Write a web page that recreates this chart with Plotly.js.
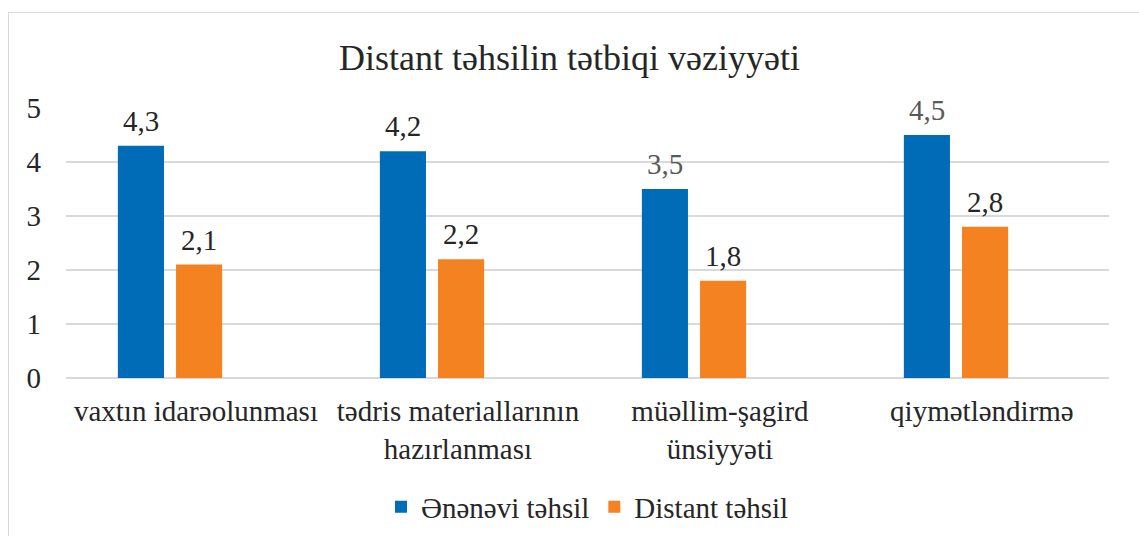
<!DOCTYPE html>
<html>
<head>
<meta charset="utf-8">
<script src="https://cdn.plot.ly/plotly-3.0.1.min.js"></script>
<style>
  html, body { margin: 0; padding: 0; background: #ffffff; }
  #wrap { position: relative; width: 1139px; height: 536px; overflow: hidden; }
  #chart { width: 1139px; height: 536px; }
  #frame { position: absolute; left: 8px; top: 12px; width: 1140px; height: 540px;
           border: 1.5px solid #d9d9d9; box-sizing: border-box; pointer-events: none; }
</style>
</head>
<body>
<div id="wrap">
  <div id="chart"></div>
  <div id="frame"></div>
</div>
<script>
const chartTitle = "Distant təhsilin tətbiqi vəziyyəti";
const categories = ["vaxtın idarəolunması", "tədris materiallarının<br>hazırlanması", "müəllim-şagird<br>ünsiyyəti", "qiymətləndirmə"];
const seriesNames = ["Ənənəvi təhsil", "Distant təhsil"];
const traditionalValues = [4.3, 4.2, 3.5, 4.5];
const distantValues = [2.1, 2.2, 1.8, 2.8];
const yTicks = [0, 1, 2, 3, 4, 5];

const FONT = "Liberation Serif";
const FS = 29;
const BLUE = "#006cb7";
const ORANGE = "#f58220";
const BAR_W = 0.176;
const OFFS = [-0.298, -0.076];
const labelColors = [["#262626", "#262626", "#595959", "#595959"], ["#262626", "#262626", "#262626", "#262626"]];

const fmt = v => v.toFixed(1).replace('.', ',');
const allValues = [traditionalValues, distantValues];
const colors = [BLUE, ORANGE];

const traces = allValues.map((vals, s) => ({
  type: 'bar',
  name: seriesNames[s],
  x: categories,
  y: vals,
  width: vals.map(() => BAR_W),
  offset: vals.map(() => OFFS[s]),
  marker: { color: colors[s] },
  hoverinfo: 'x+y'
}));

const annotations = [];
allValues.forEach((vals, s) => {
  vals.forEach((v, i) => {
    annotations.push({
      xref: 'x', yref: 'y',
      x: i + OFFS[s] + BAR_W / 2,
      y: v,
      text: fmt(v),
      showarrow: false,
      xanchor: 'center', yanchor: 'bottom',
      yshift: 7,
      font: { family: FONT, size: FS, color: labelColors[s][i] }
    });
  });
});

const layout = {
  width: 1139, height: 536,
  margin: { l: 66, r: 30, t: 108, b: 158, autoexpand: false },
  paper_bgcolor: 'rgba(0,0,0,0)',
  plot_bgcolor: 'rgba(0,0,0,0)',
  font: { family: FONT, size: FS, color: '#262626' },
  title: {
    text: chartTitle,
    font: { family: FONT, size: 36, color: '#262626' },
    x: 0.5, xref: 'container', xanchor: 'center',
    y: 1 - 57 / 536, yref: 'container', yanchor: 'middle'
  },
  xaxis: {
    type: 'category',
    range: [-0.496, 3.485],
    automargin: false,
    showgrid: false,
    zeroline: false,
    showline: false,
    ticks: '',
    ticklabelstandoff: 13,
    tickfont: { family: FONT, size: FS, color: '#262626' },
    fixedrange: true
  },
  yaxis: {
    range: [0, 5],
    automargin: false,
    tickvals: yTicks,
    ticktext: yTicks.map(String),
    showgrid: true,
    gridcolor: '#d9d9d9',
    gridwidth: 1.5,
    zeroline: true,
    zerolinecolor: '#d9d9d9',
    zerolinewidth: 1.5,
    showline: false,
    ticks: '',
    ticklabelstandoff: 24,
    tickfont: { family: FONT, size: FS, color: '#262626' },
    fixedrange: true
  },
  barmode: 'group',
  showlegend: true,
  legend: {
    orientation: 'h',
    x: 0.5, xanchor: 'center',
    y: (378 - 507) / 270, yanchor: 'middle',
    font: { family: FONT, size: FS, color: '#262626' },
    itemwidth: 30,
    traceorder: 'normal'
  },
  annotations: annotations
};

Plotly.newPlot('chart', traces, layout, { displayModeBar: false, staticPlot: true });
</script>
</body>
</html>
